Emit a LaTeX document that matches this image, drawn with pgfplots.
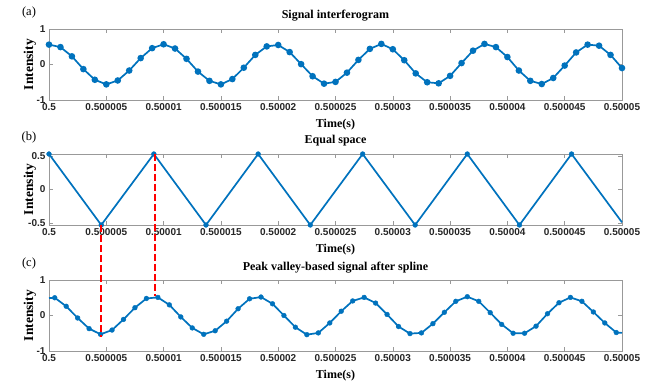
\documentclass[border=0pt]{standalone}
\usepackage{pgfplots}
\pgfplotsset{compat=1.18}
\usepackage{fontspec}
\setmainfont{Liberation Serif}
\setsansfont{Liberation Sans}
\definecolor{mblue}{rgb}{0,0.447,0.741}
\definecolor{axgray}{rgb}{0.6,0.6,0.6}
\definecolor{rdash}{rgb}{1,0,0}
\pgfplotsset{
  panel/.style={
    scale only axis, width=573pt, height=71pt,
    anchor=south west,
    xmin=0, xmax=50, clip=false,
    xtick={0,5,...,50},
    xticklabels={0.5,0.500005,0.50001,0.500015,0.50002,0.500025,0.50003,0.500035,0.50004,0.500045,0.50005},
    tick align=inside,
    major tick length=4pt,
    axis line style={axgray, line width=0.6pt},
    every tick/.style={axgray, line width=0.6pt},
    tick label style={font=\sffamily\bfseries\fontsize{10}{12}\selectfont, text=black!85},
    /pgf/number format/assume math mode=true,
    xlabel={Time(s)},
    ylabel={Intensity},
    xlabel style={font=\bfseries\fontsize{12}{14}\selectfont, at={(axis description cs:0.5,0)}, anchor=center, yshift=-25pt},
    ylabel style={font=\bfseries\fontsize{13.5}{15}\selectfont, at={(axis description cs:-0.0332,0.5)}, anchor=center},
    title style={font=\bfseries\fontsize{12}{14}\selectfont, at={(axis description cs:0.5,1)}, anchor=base, yshift=4pt},
  },
  sig/.style={mblue, line width=1.7pt, mark=*, mark size=2.4pt, mark options={mblue, solid}},
}
\begin{document}
\begin{tikzpicture}
\path[use as bounding box] (-49pt,-288pt) rectangle (605pt,100pt);
% (a)
\begin{axis}[panel, at={(0pt,0pt)}, title={Signal interferogram},
  ymin=-1, ymax=1, ytick={-1,0,1}, yticklabels={-1,0,1}]
\addplot[sig] coordinates {
(0,0.56) (1,0.49) (2,0.23) (3,-0.13) (4,-0.43) (5,-0.56) (6,-0.45) (7,-0.17) (8,0.18) (9,0.46)
(10,0.57) (11,0.45) (12,0.16) (13,-0.20) (14,-0.46) (15,-0.56) (16,-0.41) (17,-0.09) (18,0.27) (19,0.51)
(20,0.55) (21,0.35) (22,0.01) (23,-0.33) (24,-0.54) (25,-0.49) (26,-0.23) (27,0.13) (28,0.44) (29,0.58)
(30,0.43) (31,0.12) (32,-0.25) (33,-0.50) (34,-0.53) (35,-0.32) (36,0.04) (37,0.39) (38,0.58) (39,0.49)
(40,0.21) (41,-0.17) (42,-0.46) (43,-0.55) (44,-0.38) (45,-0.03) (46,0.34) (47,0.56) (48,0.53) (49,0.27)
(50,-0.10)};
\node[font=\fontsize{12.5}{14}\selectfont] at (rel axis cs:0,1) [xshift=-20pt, yshift=16.5pt] {(a)};
\end{axis}
% (b)
\begin{axis}[panel, at={(0pt,-125pt)}, title={Equal space},
  ymin=-0.53, ymax=0.53, ytick={-0.5,0,0.5}, yticklabels={-0.5,0,0.5}]
\addplot[mblue, line width=1.7pt] coordinates {
(0,0.53) (4.56,-0.53) (9.15,0.53) (13.7,-0.53) (18.25,0.53) (22.8,-0.53) (27.37,0.53) (31.95,-0.53)
(36.5,0.53) (41.05,-0.53) (45.6,0.53) (50,-0.49)};
\addplot[mblue, only marks, mark=*, mark size=2.4pt] coordinates {
(0,0.53) (4.56,-0.53) (9.15,0.53) (13.7,-0.53) (18.25,0.53) (22.8,-0.53) (27.37,0.53) (31.95,-0.53)
(36.5,0.53) (41.05,-0.53) (45.6,0.53)};
\coordinate (r1top) at (axis cs:4.52,-0.53);
\coordinate (r2top) at (axis cs:9.25,0.53);
\node[font=\fontsize{12.5}{14}\selectfont] at (rel axis cs:0,1) [xshift=-20pt, yshift=16.5pt] {(b)};
\end{axis}
% (c)
\begin{axis}[panel, at={(0pt,-251pt)}, title={Peak valley-based signal after spline},
  ymin=-1, ymax=1, ytick={-1,0,1}, yticklabels={-1,0,1}]
\addplot[mblue, line width=1.7pt] coordinates {
(0,0.49) (0.5,0.50) (1.5,0.26) (2.5,-0.07) (3.5,-0.37) (4.5,-0.53) (5.5,-0.41) (6.5,-0.11) (7.5,0.22) (8.5,0.48)
(9.5,0.51) (10.5,0.30) (11.5,-0.04) (12.5,-0.35) (13.5,-0.53) (14.5,-0.43) (15.5,-0.16) (16.5,0.19) (17.5,0.47) (18.5,0.52)
(19.5,0.33) (20.5,0.00) (21.5,-0.33) (22.5,-0.54) (23.5,-0.49) (24.5,-0.21) (25.5,0.12) (26.5,0.41) (27.5,0.51) (28.5,0.35)
(29.5,0.03) (30.5,-0.31) (31.5,-0.51) (32.5,-0.49) (33.5,-0.23) (34.5,0.09) (35.5,0.40) (36.5,0.53) (37.5,0.40) (38.5,0.08)
(39.5,-0.25) (40.5,-0.50) (41.5,-0.50) (42.5,-0.30) (43.5,0.05) (44.5,0.36) (45.5,0.51) (46.5,0.40) (47.5,0.10) (48.5,-0.21)
(49.5,-0.48) (50,-0.49)};
\addplot[mblue, only marks, mark=*, mark size=2.4pt] coordinates {
(0.5,0.50) (1.5,0.26) (2.5,-0.07) (3.5,-0.37) (4.5,-0.53) (5.5,-0.41) (6.5,-0.11) (7.5,0.22) (8.5,0.48)
(9.5,0.51) (10.5,0.30) (11.5,-0.04) (12.5,-0.35) (13.5,-0.53) (14.5,-0.43) (15.5,-0.16) (16.5,0.19) (17.5,0.47) (18.5,0.52)
(19.5,0.33) (20.5,0.00) (21.5,-0.33) (22.5,-0.54) (23.5,-0.49) (24.5,-0.21) (25.5,0.12) (26.5,0.41) (27.5,0.51) (28.5,0.35)
(29.5,0.03) (30.5,-0.31) (31.5,-0.51) (32.5,-0.49) (33.5,-0.23) (34.5,0.09) (35.5,0.40) (36.5,0.53) (37.5,0.40) (38.5,0.08)
(39.5,-0.25) (40.5,-0.50) (41.5,-0.50) (42.5,-0.30) (43.5,0.05) (44.5,0.36) (45.5,0.51) (46.5,0.40) (47.5,0.10) (48.5,-0.21)
(49.5,-0.48)};
\coordinate (r1bot) at (axis cs:4.52,-0.61);
\coordinate (r2bot) at (axis cs:9.25,0.56);
\node[font=\fontsize{12.5}{14}\selectfont] at (rel axis cs:0,1) [xshift=-20pt, yshift=16.5pt] {(c)};
\end{axis}
\draw[color=rdash, line width=2pt, dash pattern=on 7pt off 3pt] (r1top) -- (r1bot);
\draw[color=rdash, line width=2pt, dash pattern=on 7pt off 3pt] (r2top) -- (r2bot);
\end{tikzpicture}
\end{document}
